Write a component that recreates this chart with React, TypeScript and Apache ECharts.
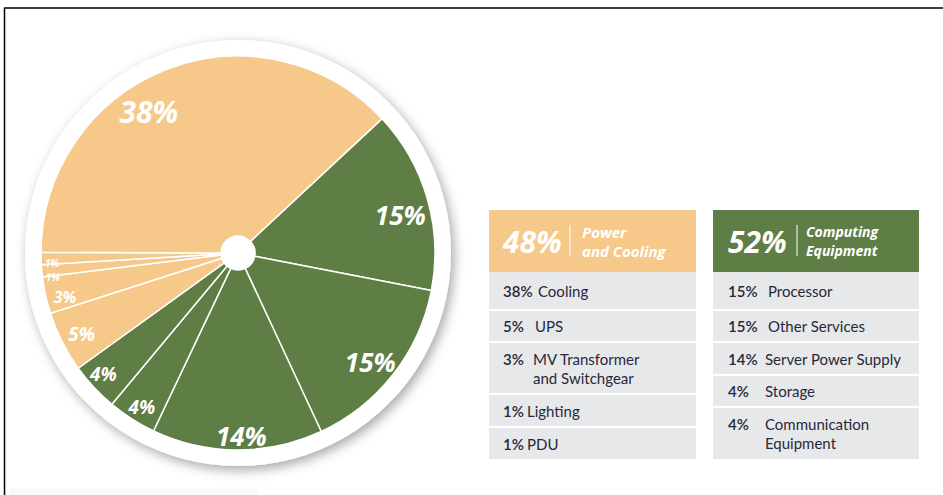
import React, { useEffect, useRef } from "react";
import * as echarts from "echarts";

// ---- data ----
const computingNames = ["Processor", "Other Services", "Server Power Supply", "Storage", "Communication\nEquipment"];
const computingValues = [15, 15, 14, 4, 4];
const powerNames = ["Cooling", "UPS", "MV Transformer\nand Switchgear", "Lighting", "PDU"];
const powerValues = [38, 5, 3, 1, 1];
const groupTitles = ["Power\nand Cooling", "Computing\nEquipment"];

// ---- styles ----
const ORANGE = "#f6c98b";
const GREEN = "#5e7e45";
const ROW = "#e7e8ea";
const TEXT = "#27283a";
const FONT = "Lato, 'Noto Sans', sans-serif";
const LABEL_FONT = "'Open Sans', 'Noto Sans', sans-serif";

const sum = (a: number[]) => a.reduce((s, v) => s + v, 0);

export default function App() {
  const ref = useRef<HTMLDivElement>(null);

  useEffect(() => {
    document.body.style.margin = "0";
    const chart = echarts.init(ref.current!, undefined, { renderer: "svg" });

    // pie order (clockwise from the top-right): computing items, then power items with cooling last
    const pieNames = [...computingNames, ...powerNames.slice(1), powerNames[0]];
    const pieValues = [...computingValues, ...powerValues.slice(1), powerValues[0]];
    const pieColors = [
      ...computingValues.map(() => GREEN),
      ...powerValues.slice(1).map(() => ORANGE),
      ORANGE,
    ];
    const labelSizes = [26, 26, 26, 19, 19, 19, 16, 10, 10, 30];
    const labelNudge = [
      [-4, 10], [-4, 2], [4, 10], [-3, 8], [-8, 3], [-2, 3], [-4, 7], [-13, 8], [-13, 5], [-26, 20],
    ];

    const pieData = pieNames.map((n, i) => ({
      name: n,
      value: pieValues[i],
      itemStyle: { color: pieColors[i] },
    }));
    const labelData = pieNames.map((n, i) => ({
      name: n,
      value: pieValues[i],
      label: { fontSize: labelSizes[i] },
    }));

    const cx = 238, cy = 253;

    const graphics: any[] = [];
    // frame
    graphics.push({ type: "line", shape: { x1: 4, y1: 8, x2: 943, y2: 8 }, style: { stroke: "#000", lineWidth: 1.5 } });
    graphics.push({ type: "line", shape: { x1: 4.5, y1: 8, x2: 4.5, y2: 495 }, style: { stroke: "#000", lineWidth: 1.5 } });
    graphics.push({ type: "rect", shape: { x: 9, y: 488, width: 248, height: 7 }, style: { fill: "#f7f9fb" } });

    const tables = [
      {
        x: 489, w: 207, color: ORANGE, total: sum(powerValues), title: groupTitles[0],
        names: powerNames, values: powerValues, bounds: [272, 310, 342, 394, 427, 460],
        pctX: 503, nameX: [538, 535, 533, 527, 527], divX: 570, titleX: 582, titleSize: 15,
      },
      {
        x: 713, w: 206, color: GREEN, total: sum(computingValues), title: groupTitles[1],
        names: computingNames, values: computingValues, bounds: [272, 310, 342, 375, 407, 460],
        pctX: 728, nameX: [768, 768, 765, 765, 765], divX: 797, titleX: 806, titleSize: 14,
      },
    ];

    tables.forEach((t) => {
      graphics.push({ type: "rect", shape: { x: t.x, y: 210, width: t.w, height: 62 }, style: { fill: t.color } });
      graphics.push({
        type: "text", x: t.pctX, y: 241,
        style: { text: `${t.total}%`, fill: "#fff", fontSize: 30, fontWeight: "bold", fontStyle: "italic", fontFamily: LABEL_FONT, verticalAlign: "middle" },
      });
      graphics.push({ type: "line", shape: { x1: t.divX, y1: 225, x2: t.divX, y2: 256 }, style: { stroke: "#fff", lineWidth: 1 } });
      graphics.push({
        type: "text", x: t.titleX, y: 241,
        style: { text: t.title, fill: "#fff", fontSize: t.titleSize, lineHeight: 19, fontWeight: "bold", fontStyle: "italic", fontFamily: LABEL_FONT, verticalAlign: "middle" },
      });
      t.names.forEach((n, i) => {
        const top = t.bounds[i] + (i === 0 ? 0 : 1);
        const bot = t.bounds[i + 1] - 1;
        graphics.push({ type: "rect", shape: { x: t.x, y: top, width: t.w, height: bot - top }, style: { fill: ROW } });
        const mid = (top + bot) / 2;
        const lines = n.split("\n").length;
        const firstY = mid - ((lines - 1) * 19) / 2;
        graphics.push({
          type: "text", x: t.pctX, y: firstY,
          style: { text: `${t.values[i]}%`, fill: TEXT, fontSize: 15, fontWeight: 600, fontFamily: FONT, verticalAlign: "middle" },
        });
        graphics.push({
          type: "text", x: t.nameX[i], y: mid,
          style: { text: n, fill: TEXT, fontSize: 15, lineHeight: 19, fontFamily: FONT, verticalAlign: "middle" },
        });
      });
    });

    chart.setOption({
      animation: false,
      series: [
        {
          type: "pie",
          center: [cx, cy],
          radius: [0, 213],
          silent: true,
          label: { show: false },
          labelLine: { show: false },
          data: [{ value: 1, itemStyle: { color: "#fff", shadowBlur: 12, shadowColor: "rgba(0,0,0,0.35)", shadowOffsetX: 3, shadowOffsetY: 4 } }],
          z: 1,
        },
        {
          type: "pie",
          center: [cx, cy],
          radius: [17, 197],
          startAngle: 43,
          clockwise: true,
          silent: true,
          itemStyle: { borderColor: "#fff", borderWidth: 1.5 },
          label: { show: false },
          labelLine: { show: false },
          data: pieData,
          z: 2,
        },
        {
          type: "pie",
          center: [cx, cy],
          radius: [140, 200],
          startAngle: 43,
          clockwise: true,
          silent: true,
          itemStyle: { color: "rgba(0,0,0,0)", borderWidth: 0 },
          label: {
            show: true,
            position: "inside",
            formatter: (p: any) => `${p.value}%`,
            color: "#fff",
            fontWeight: "bold",
            fontStyle: "italic",
            fontFamily: LABEL_FONT,
          },
          labelLayout: (p: any) => ({ dx: labelNudge[p.dataIndex][0], dy: labelNudge[p.dataIndex][1] }),
          labelLine: { show: false },
          data: labelData,
          z: 3,
        },
      ],
      graphic: { elements: graphics },
    });

    return () => chart.dispose();
  }, []);

  return <div ref={ref} style={{ width: 943, height: 495 }} />;
}
